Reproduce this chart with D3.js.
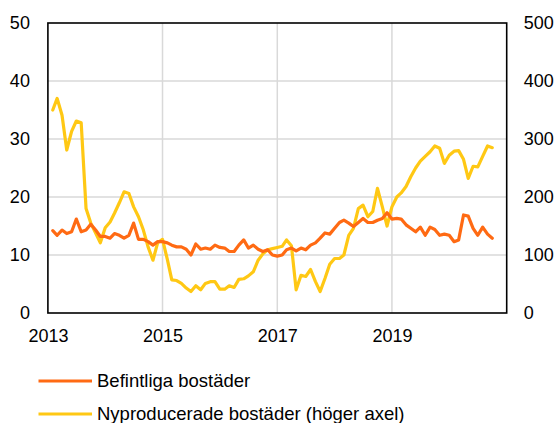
<!DOCTYPE html>
<html>
<head>
<meta charset="utf-8">
<script src="https://cdn.jsdelivr.net/npm/d3@7"></script>
<style>
  html, body { margin: 0; padding: 0; background: #fff; }
  svg { display: block; font-family: Arial, "Liberation Sans", sans-serif; }
</style>
</head>
<body>
<svg id="chart" width="555" height="423"></svg>
<script>
// Monthly series, Feb 2013 – Oct 2020
const firstMonth = "2013-02";

// Befintliga bostäder (vänster axel)
const befintliga = [
  14.2, 13.4, 14.3, 13.7, 14.0, 16.2, 14.0, 14.3, 15.3, 14.3, 13.2,
  13.2, 12.9, 13.7, 13.4, 12.9, 13.4, 15.5, 12.7, 12.7, 12.3, 11.7, 12.3,
  12.3, 12.1, 11.7, 11.4, 11.4, 11.0, 10.0, 11.9, 11.0, 11.2, 11.0, 11.7,
  11.3, 11.2, 10.6, 10.6, 11.7, 12.6, 11.2, 11.7, 11.0, 10.6, 10.9, 10.0,
  9.8, 10.0, 10.9, 11.2, 10.7, 11.2, 10.9, 11.7, 12.1, 12.9, 13.8, 13.6,
  14.6, 15.6, 16.0, 15.5, 14.9, 15.6, 16.3, 15.6, 15.6, 16.0, 16.3, 17.3,
  16.2, 16.3, 16.2, 15.2, 14.6, 14.0, 14.8, 13.4, 14.8, 14.4, 13.4, 13.6,
  13.4, 12.3, 12.6, 16.9, 16.7, 14.6, 13.4, 14.8, 13.6, 12.9
];

// Nyproducerade bostäder (höger axel)
const nyproducerade = [
  350, 370, 341, 281, 313, 331, 328, 180, 155, 138, 121,
  147, 157, 172, 190, 209, 206, 183, 166, 143, 114, 91, 121,
  127, 92, 57, 56, 51, 43, 37, 47, 40, 51, 54, 54,
  41, 41, 47, 44, 58, 59, 64, 71, 91, 102, 109, 111,
  113, 115, 126, 116, 40, 65, 63, 75, 54, 37, 60, 84,
  94, 94, 100, 134, 146, 180, 186, 166, 175, 215, 183, 150,
  183, 200, 207, 218, 235, 250, 262, 270, 278, 288, 284, 258,
  272, 279, 280, 265, 232, 253, 252, 270, 288, 285
];

const leftTicks = [0, 10, 20, 30, 40, 50];
const rightTicks = [0, 100, 200, 300, 400, 500];
const yearTicks = [2013, 2015, 2017, 2019];

const seriesNames = ["Befintliga bostäder", "Nyproducerade bostäder (höger axel)"];
const colors = ["#ff6a13", "#ffc814"];

const svg = d3.select("#chart");
const plot = { left: 47.9, right: 506.7, top: 23, bottom: 313 };

const start = d3.timeParse("%Y-%m")(firstMonth);
const months = d3.range(befintliga.length).map(i => d3.timeMonth.offset(start, i));

const x = d3.scaleTime()
  .domain([new Date(2013, 0, 1), new Date(2021, 0, 1)])
  .range([plot.left, plot.right]);
const yL = d3.scaleLinear().domain([0, 50]).range([plot.bottom, plot.top]);
const yR = d3.scaleLinear().domain([0, 500]).range([plot.bottom, plot.top]);

// Gridlines
const grid = svg.append("g").attr("stroke", "#d9d9d9").attr("stroke-width", 1.5);
grid.selectAll("line.h").data(leftTicks.slice(1, -1)).join("line")
  .attr("x1", plot.left).attr("x2", plot.right)
  .attr("y1", d => yL(d)).attr("y2", d => yL(d));
grid.selectAll("line.v").data(yearTicks.slice(1)).join("line")
  .attr("y1", plot.top).attr("y2", plot.bottom)
  .attr("x1", d => x(new Date(d, 0, 1))).attr("x2", d => x(new Date(d, 0, 1)));

// Lines
const lineL = d3.line().x((d, i) => x(months[i])).y(d => yL(d));
const lineR = d3.line().x((d, i) => x(months[i])).y(d => yR(d));

svg.append("path").datum(nyproducerade)
  .attr("fill", "none").attr("stroke", colors[1]).attr("stroke-width", 3.2)
  .attr("stroke-linejoin", "round").attr("stroke-linecap", "round")
  .attr("d", lineR);
svg.append("path").datum(befintliga)
  .attr("fill", "none").attr("stroke", colors[0]).attr("stroke-width", 3.2)
  .attr("stroke-linejoin", "round").attr("stroke-linecap", "round")
  .attr("d", lineL);

// Frame
svg.append("rect")
  .attr("x", plot.left).attr("y", plot.top)
  .attr("width", plot.right - plot.left).attr("height", plot.bottom - plot.top)
  .attr("fill", "none").attr("stroke", "#000").attr("stroke-width", 1.6);

// Axes
const fontSize = 18;
const axL = svg.append("g").attr("transform", `translate(${plot.left},0)`)
  .call(d3.axisLeft(yL).tickValues(leftTicks).tickSize(0).tickPadding(18));
const axR = svg.append("g").attr("transform", `translate(${plot.right},0)`)
  .call(d3.axisRight(yR).tickValues(rightTicks).tickSize(0).tickPadding(17));
const axB = svg.append("g").attr("transform", `translate(0,${plot.bottom})`)
  .call(d3.axisBottom(x).tickValues(yearTicks.map(d => new Date(d, 0, 1)))
    .tickFormat(d3.timeFormat("%Y")).tickSize(0).tickPadding(16));
[axL, axR, axB].forEach(a => {
  a.select(".domain").remove();
  a.selectAll("text").attr("font-size", fontSize).attr("fill", "#000")
    .attr("font-family", "Arial, 'Liberation Sans', sans-serif");
});

// Legend
const legend = svg.append("g");
const legendRows = [381, 414];
seriesNames.forEach((name, i) => {
  legend.append("line")
    .attr("x1", 38.5).attr("x2", 92)
    .attr("y1", legendRows[i]).attr("y2", legendRows[i])
    .attr("stroke", colors[i]).attr("stroke-width", 3.2);
  legend.append("text")
    .attr("x", 97).attr("y", legendRows[i]).attr("dy", "0.35em")
    .attr("font-size", 18.5).attr("fill", "#000")
    .text(name);
});
</script>
</body>
</html>
